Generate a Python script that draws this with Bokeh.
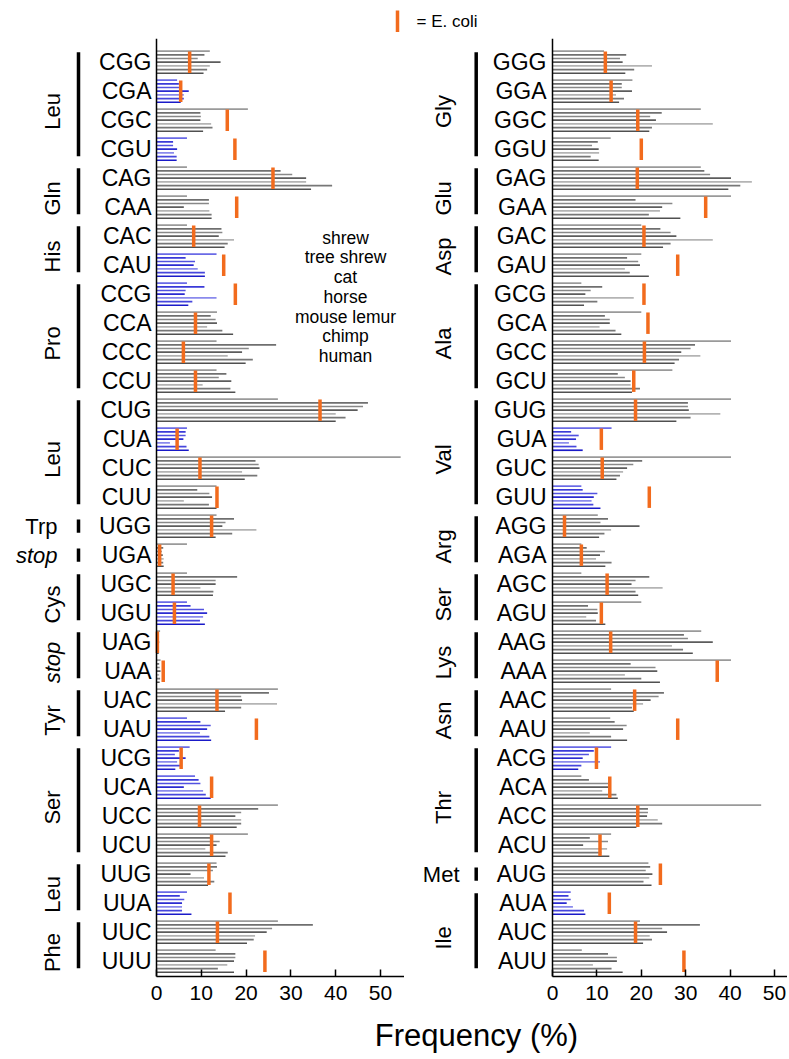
import numpy as np
from bokeh.plotting import figure
from bokeh.layouts import column, row
from bokeh.models import Span, FixedTicker, Range1d
from bokeh.core.properties import value
from bokeh.embed import file_html
from bokeh.resources import INLINE

# ---------------- data ----------------
species = ["shrew", "tree shrew", "cat", "horse", "mouse lemur", "chimp", "human"]

left_codons = ["CGG", "CGA", "CGC", "CGU", "CAG", "CAA", "CAC", "CAU", "CCG", "CCA", "CCC", "CCU",
               "CUG", "CUA", "CUC", "CUU", "UGG", "UGA", "UGC", "UGU", "UAG", "UAA", "UAC", "UAU",
               "UCG", "UCA", "UCC", "UCU", "UUG", "UUA", "UUC", "UUU"]
left_aa = ["Leu", "Gln", "His", "Pro", "Leu", "Trp", "stop", "Cys", "stop", "Tyr", "Ser", "Leu", "Phe"]
left_aa_sizes = [4, 2, 2, 4, 4, 1, 1, 2, 2, 2, 4, 2, 2]
left_blue = ["CGA", "CGU", "CAU", "CCG", "CUA", "UGU", "UAU", "UCG", "UCA", "UUA"]

shrew_L = [11.9, 4.6, 20.4, 6.8, 6.8, 6.8, 6.8, 13.4, 6.8, 13.5, 13.4, 13.4, 27.1, 6.8, 54.5, 13.4,
           13.4, 6.8, 6.8, 6.8, 0.8, 0.9, 27.1, 6.8, 7.4, 8.6, 27.1, 20.4, 13.4, 6.8, 27.1, 13.2]
tree_shrew_L = [10.7, 5.0, 9.8, 3.7, 27.7, 11.7, 14.5, 6.5, 10.7, 12.1, 26.7, 15.6, 47.2, 6.5, 22.1, 9.1,
                17.3, 1.5, 18.0, 7.6, 0.5, 0.6, 25.1, 9.8, 5.0, 9.4, 22.7, 12.1, 13.5, 5.2, 34.9, 17.6]
cat_L = [9.2, 5.4, 9.9, 3.7, 30.3, 11.7, 14.7, 8.6, 6.5, 13.2, 20.6, 13.9, 46.1, 6.5, 22.8, 11.8,
         15.4, 1.2, 13.2, 10.6, 0.5, 0.7, 18.9, 12.1, 4.1, 9.8, 18.9, 14.1, 12.6, 6.2, 25.8, 17.6]
horse_L = [14.3, 7.2, 9.8, 4.6, 33.4, 6.1, 13.9, 8.3, 6.3, 13.5, 19.1, 16.7, 44.9, 6.0, 23.0, 12.4,
           14.7, 1.4, 13.2, 11.3, 0.6, 0.9, 19.1, 11.3, 6.5, 6.1, 17.6, 13.4, 7.6, 5.7, 24.6, 17.3]
lemur_L = [11.9, 6.1, 12.2, 3.9, 33.4, 11.8, 17.3, 9.2, 13.4, 11.3, 15.9, 10.3, 40.0, 3.0, 19.1, 6.1,
           22.3, 1.6, 9.8, 10.4, 0.5, 0.6, 26.9, 9.7, 4.6, 10.4, 18.9, 10.9, 10.6, 5.7, 22.0, 15.8]
chimp_L = [11.3, 6.1, 12.5, 4.5, 39.2, 12.3, 15.9, 10.8, 8.0, 14.7, 21.5, 16.5, 42.2, 6.7, 22.5, 11.7,
           16.9, 1.5, 12.7, 9.7, 0.5, 0.8, 18.9, 11.8, 5.5, 11.0, 18.9, 15.9, 12.9, 5.7, 21.7, 13.7]
human_L = [10.5, 5.4, 10.4, 4.5, 34.5, 12.3, 15.2, 10.8, 7.1, 17.1, 19.9, 17.6, 40.0, 7.2, 19.7, 13.4,
           13.2, 1.6, 12.6, 10.8, 0.5, 0.7, 15.3, 12.2, 4.2, 12.1, 17.9, 15.4, 11.5, 7.8, 20.2, 17.3]
ecoli_L = [7.4, 5.4, 15.8, 17.5, 26.0, 17.9, 8.3, 15.0, 17.6, 8.7, 6.0, 8.7, 36.5, 4.6, 9.7, 13.5,
           12.3, 0.7, 3.7, 4.0, 0.2, 1.5, 13.5, 22.3, 5.5, 12.3, 9.6, 12.3, 11.7, 16.4, 13.6, 24.2]

right_codons = ["GGG", "GGA", "GGC", "GGU", "GAG", "GAA", "GAC", "GAU", "GCG", "GCA", "GCC", "GCU",
                "GUG", "GUA", "GUC", "GUU", "AGG", "AGA", "AGC", "AGU", "AAG", "AAA", "AAC", "AAU",
                "ACG", "ACA", "ACC", "ACU", "AUG", "AUA", "AUC", "AUU"]
right_aa = ["Gly", "Glu", "Asp", "Ala", "Val", "Arg", "Ser", "Lys", "Asn", "Thr", "Met", "Ile"]
right_aa_sizes = [4, 2, 2, 4, 4, 2, 2, 2, 2, 4, 1, 3]
right_blue = ["GUA", "GUU", "ACG", "AUA"]

shrew_R = [11.6, 18.0, 33.4, 13.1, 33.4, 40.2, 20.0, 20.0, 6.5, 20.0, 40.2, 27.0, 40.2, 13.3, 40.2, 6.5,
           10.2, 6.5, 6.5, 20.0, 33.5, 40.2, 13.2, 13.0, 13.2, 6.5, 47.0, 13.2, 21.6, 4.1, 19.7, 6.6]
tree_shrew_R = [16.6, 15.6, 24.6, 10.2, 34.2, 18.7, 24.3, 16.8, 11.2, 11.8, 32.1, 14.7, 30.5, 4.2, 20.2, 6.8,
                12.5, 7.7, 21.8, 8.0, 29.6, 17.6, 25.1, 14.0, 9.3, 8.2, 21.5, 8.4, 22.0, 3.6, 33.2, 12.5]
cat_R = [15.2, 15.6, 22.0, 8.9, 35.5, 27.0, 26.6, 19.3, 8.6, 12.9, 31.1, 16.3, 30.5, 5.9, 18.2, 10.1,
         10.8, 11.8, 18.7, 10.1, 30.5, 23.2, 23.9, 16.7, 8.2, 12.5, 21.5, 12.5, 21.0, 4.1, 24.7, 14.5]
horse_R = [15.8, 17.9, 23.3, 10.4, 40.2, 24.7, 27.9, 19.7, 7.4, 12.9, 29.0, 17.6, 30.7, 5.3, 16.8, 9.3,
           19.6, 10.7, 17.8, 10.2, 36.1, 23.6, 22.1, 15.9, 6.8, 12.5, 21.3, 6.9, 22.5, 3.2, 25.8, 14.5]
lemur_R = [22.4, 14.3, 36.1, 10.5, 44.9, 24.2, 36.1, 16.3, 18.3, 10.6, 33.3, 17.6, 37.8, 3.7, 15.9, 8.8,
           13.2, 9.8, 24.8, 7.6, 26.9, 16.3, 20.4, 8.4, 10.7, 11.2, 23.7, 12.3, 21.8, 4.6, 21.9, 9.1]
chimp_R = [18.4, 16.1, 22.4, 8.6, 42.3, 21.7, 26.6, 17.4, 10.1, 14.2, 28.5, 19.7, 31.1, 5.4, 15.2, 9.2,
           11.7, 13.3, 18.7, 9.8, 29.4, 20.0, 17.9, 13.2, 6.5, 14.4, 24.7, 11.0, 20.5, 7.1, 22.4, 13.3]
human_R = [16.4, 15.0, 21.8, 10.4, 39.6, 28.8, 24.9, 21.7, 7.1, 15.5, 27.5, 17.9, 27.9, 6.8, 14.4, 10.8,
           10.5, 11.9, 19.3, 11.9, 31.6, 24.2, 18.3, 16.8, 5.8, 14.7, 18.9, 12.8, 22.3, 7.4, 20.4, 15.8]
ecoli_R = [11.9, 13.2, 19.2, 20.0, 19.1, 34.5, 20.6, 28.2, 20.6, 21.5, 20.7, 18.3, 18.7, 11.0, 11.2, 21.8,
           2.7, 6.5, 12.3, 11.0, 13.1, 37.1, 18.5, 28.2, 9.9, 12.9, 19.2, 10.7, 24.3, 12.8, 18.7, 29.6]

x_ticks = [0, 10, 20, 30, 40, 50]
x_title = "Frequency (%)"
legend_label = "= E. coli"

# ---------------- style ----------------
FONT = "Liberation Sans"
GRAYS = ["#9a9a9a", "#6f6f6f", "#888888", "#5c5c5c", "#b4b4b4", "#777777", "#505050"]
BLUES = ["#6a6ae6", "#3a3ad8", "#5252e0", "#2a2ad0", "#8a8aec", "#4646dc", "#1a1ac8"]
ORANGE = "#f26b1d"

TOP_H = 38
FRAME_H = 938
BOTTOM_B = 36
TITLE_H = 45
Y_RANGE = (-0.528, 31.817)
BAR_STEP = 0.127
BAR_H = 0.058


def make_panel(codons, series, ecoli, aa, sizes, blue, width, x_start, x_end, lab):
    n = len(codons)
    ypos = np.arange(n)[::-1].astype(float)
    p = figure(width=width, height=FRAME_H + BOTTOM_B,
               x_range=Range1d(x_start, x_end), y_range=Range1d(*Y_RANGE),
               output_backend="svg", toolbar_location=None, y_axis_location=None,
               min_border_left=0, min_border_right=0, min_border_top=0,
               min_border_bottom=BOTTOM_B)
    p.grid.visible = False
    p.outline_line_color = None

    ys, rights, colors = [], [], []
    for k, vals in enumerate(series):
        for i, v in enumerate(vals):
            ys.append(ypos[i] + (3 - k) * BAR_STEP)
            rights.append(v)
            colors.append(BLUES[k] if codons[i] in blue else GRAYS[k])
    p.hbar(y=ys, left=0, right=rights, height=BAR_H, fill_color=colors, line_color=None)

    p.segment(x0=ecoli, x1=ecoli, y0=list(ypos - 0.37), y1=list(ypos + 0.37),
              line_color=ORANGE, line_width=3.5)

    p.add_layout(Span(location=0, dimension="height", line_color="black", line_width=1.5))

    p.text(x=lab["codon_x"], y=list(ypos), text=codons, text_align="right",
           text_baseline="middle", text_font=value(FONT), text_font_size="23px",
           text_color="black")

    tops, bots = [], []
    rot = {"normal": ([], [], []), "italic": ([], [], [])}
    hor = {"normal": ([], [], []), "italic": ([], [], [])}
    start = 0
    for name, size in zip(aa, sizes):
        first = ypos[start]
        last = ypos[start + size - 1]
        style = "italic" if name == "stop" else "normal"
        if size == 1:
            tops.append(first + 0.23)
            bots.append(first - 0.23)
            hor[style][0].append(lab["single_x"])
            hor[style][1].append(first)
            hor[style][2].append(name)
        else:
            tops.append(first + 0.34)
            bots.append(last - 0.24)
            rot[style][0].append(lab["aa_x"])
            rot[style][1].append((first + last) / 2 - 0.2)
            rot[style][2].append(name)
        start += size
    p.segment(x0=[lab["bracket_x"]] * len(tops), x1=[lab["bracket_x"]] * len(tops),
              y0=tops, y1=bots, line_color="black", line_width=3.5)
    for style, (xx, yy, tt) in rot.items():
        if tt:
            p.text(x=xx, y=yy, text=tt, angle=np.pi / 2, text_align="center",
                   text_baseline="middle", text_font=value(FONT), text_font_size="22px",
                   text_font_style=style, text_color="black")
    for style, (xx, yy, tt) in hor.items():
        if tt:
            p.text(x=xx, y=yy, text=tt, text_align="right",
                   text_baseline="middle", text_font=value(FONT), text_font_size="22px",
                   text_font_style=style, text_color="black")

    ax = p.xaxis[0]
    ax.ticker = FixedTicker(ticks=x_ticks)
    ax.bounds = (0, x_end)
    ax.axis_line_width = 1.5
    ax.axis_line_color = "black"
    ax.major_tick_line_width = 1.5
    ax.major_tick_line_color = "black"
    ax.major_tick_in = 7
    ax.major_tick_out = 0
    ax.minor_tick_line_color = None
    ax.major_label_standoff = 9
    ax.major_label_text_font = FONT
    ax.major_label_text_font_size = "21px"
    ax.major_label_text_color = "black"
    return p, ypos


# left panel: page x 0..404, axis zero at x=156, 4.48 px per unit
WL = 404
L_SCALE = 4.48
l_start = -156 / L_SCALE
l_end = l_start + WL / L_SCALE
lab_L = dict(codon_x=(151 - 156) / L_SCALE, bracket_x=(78 - 156) / L_SCALE,
             aa_x=(52 - 156) / L_SCALE, single_x=(57 - 156) / L_SCALE)
pL, yL = make_panel(left_codons, [shrew_L, tree_shrew_L, cat_L, horse_L, lemur_L, chimp_L, human_L],
                    ecoli_L, left_aa, left_aa_sizes, left_blue, WL, l_start, l_end, lab_L)

# species list inside left panel
sp_y = [31 - (237.3 - 61.7) / 29 - k * (19.7 / 29) for k in range(len(species))]
pL.text(x=[(345 - 156) / L_SCALE] * len(species), y=sp_y, text=species, text_align="center",
        text_baseline="middle", text_font=value(FONT), text_font_size="17.5px", text_color="black")

# right panel: page x 404..787, axis zero at x=552
WR = 383
R_SCALE = 4.44
r_start = -(552 - 404) / R_SCALE
r_end = r_start + WR / R_SCALE
lab_R = dict(codon_x=(546 - 552) / R_SCALE, bracket_x=(475.7 - 552) / R_SCALE,
             aa_x=(443.3 - 552) / R_SCALE, single_x=(459 - 552) / R_SCALE)
pR, yR = make_panel(right_codons, [shrew_R, tree_shrew_R, cat_R, horse_R, lemur_R, chimp_R, human_R],
                    ecoli_R, right_aa, right_aa_sizes, right_blue, WR, r_start, r_end, lab_R)

# top strip with the E. coli key
pT = figure(width=WL + WR, height=TOP_H, x_range=Range1d(0, WL + WR), y_range=Range1d(0, TOP_H),
            output_backend="svg", toolbar_location=None, x_axis_location=None,
            y_axis_location=None, min_border=0)
pT.grid.visible = False
pT.outline_line_color = None
pT.segment(x0=[397], x1=[397], y0=[6.5], y1=[28], line_color=ORANGE, line_width=3.5)
pT.text(x=[416], y=[17], text=[legend_label], text_align="left", text_baseline="middle",
        text_font=value(FONT), text_font_size="17px", text_color="black")

# bottom strip with the common x title
pB = figure(width=WL + WR, height=TITLE_H, x_range=Range1d(0, WL + WR), y_range=Range1d(0, TITLE_H),
            output_backend="svg", toolbar_location=None, x_axis_location=None,
            y_axis_location=None, min_border=0)
pB.grid.visible = False
pB.outline_line_color = None
pB.text(x=[476], y=[22], text=[x_title], text_align="center", text_baseline="middle",
        text_font=value(FONT), text_font_size="31px", text_color="black")

layout = column(pT, row(pL, pR), pB)
open("out.html", "w").write(file_html(layout, INLINE))
